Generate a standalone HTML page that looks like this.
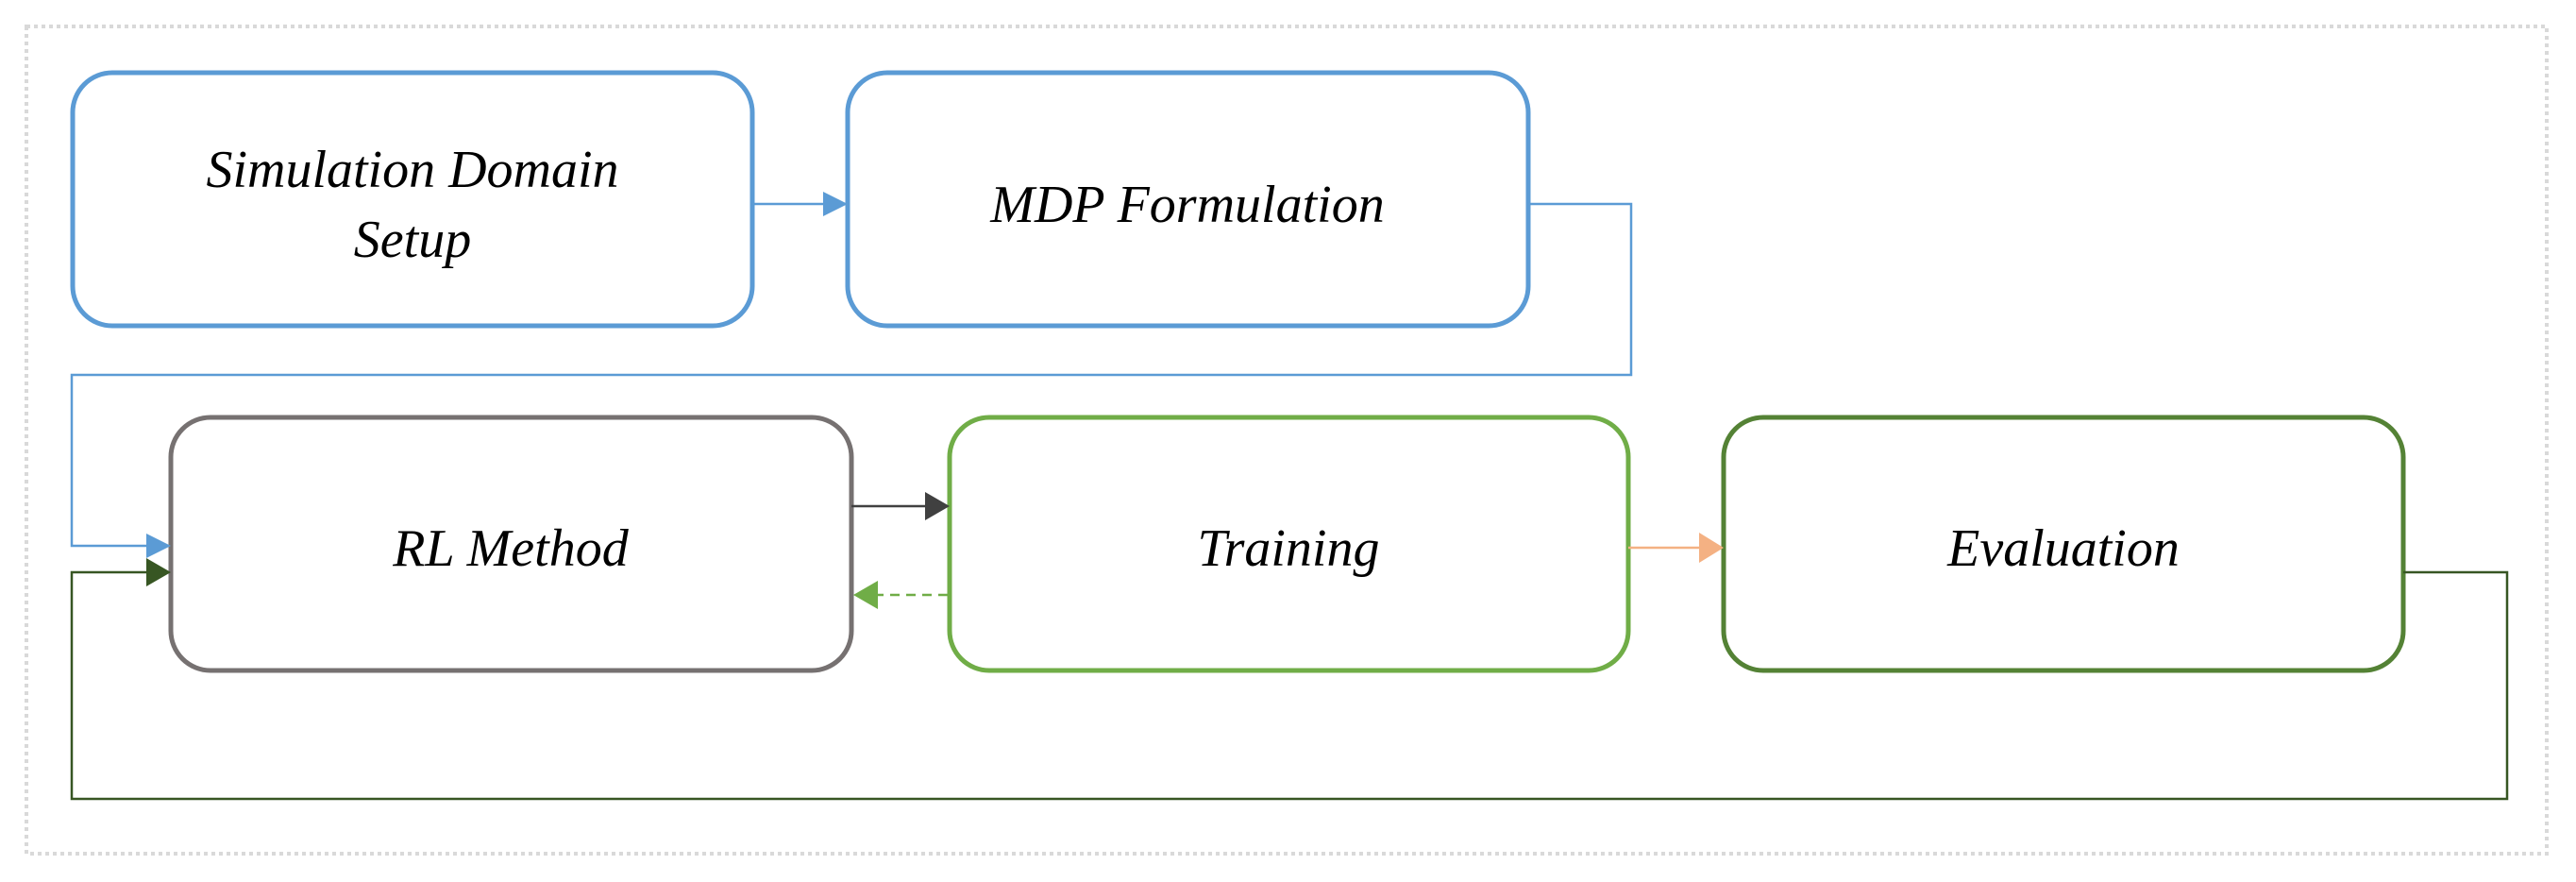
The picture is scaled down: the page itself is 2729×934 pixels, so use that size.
<!DOCTYPE html>
<html><head><style>
html,body{margin:0;padding:0;background:#fff;}
</style></head><body>
<svg width="2729" height="929" viewBox="0 0 2729 929" xmlns="http://www.w3.org/2000/svg">
<rect x="28" y="28" width="2670" height="876" fill="none" stroke="#d9d9d9" stroke-width="4" stroke-dasharray="4,4"/>
<g fill="none" stroke-width="5">
<rect x="77" y="77" width="720" height="268" rx="42" stroke="#5b9bd5"/>
<rect x="898" y="77" width="721" height="268" rx="42" stroke="#5b9bd5"/>
<rect x="181" y="442" width="721" height="268" rx="42" stroke="#767171"/>
<rect x="1006" y="442" width="719" height="268" rx="42" stroke="#70ad47"/>
<rect x="1826" y="442" width="720" height="268" rx="42" stroke="#548235"/>
</g>
<g fill="none" stroke-width="2.5">
<line x1="797" y1="216" x2="875" y2="216" stroke="#5b9bd5"/>
<polyline points="1619,216 1728,216 1728,397 76,397 76,578 160,578" stroke="#5b9bd5"/>
<line x1="902" y1="536" x2="985" y2="536" stroke="#404040"/>
<line x1="1004" y1="630" x2="925" y2="630" stroke="#70ad47" stroke-dasharray="10,7"/>
<line x1="1725" y1="580" x2="1805" y2="580" stroke="#f4b183"/>
<polyline points="2546,606 2656,606 2656,846 76,846 76,606 160,606" stroke="#375623"/>
</g>
<polygon points="872,203 898,216 872,229" fill="#5b9bd5"/>
<polygon points="155,565 181,578 155,591" fill="#5b9bd5"/>
<polygon points="980,521 1006,536 980,551" fill="#404040"/>
<polygon points="930,615 904,630 930,645" fill="#70ad47"/>
<polygon points="1800,564 1826,580 1800,596" fill="#f4b183"/>
<polygon points="155,591 181,606 155,621" fill="#375623"/>
<g font-family="Liberation Serif, serif" font-style="italic" font-size="56" fill="#000" text-anchor="middle">
<text x="437" y="198">Simulation Domain</text>
<text x="437" y="272">Setup</text>
<text x="1258" y="235">MDP Formulation</text>
<text x="541" y="599">RL Method</text>
<text x="1365" y="599">Training</text>
<text x="2186" y="599">Evaluation</text>
</g>
</svg>
</body></html>
